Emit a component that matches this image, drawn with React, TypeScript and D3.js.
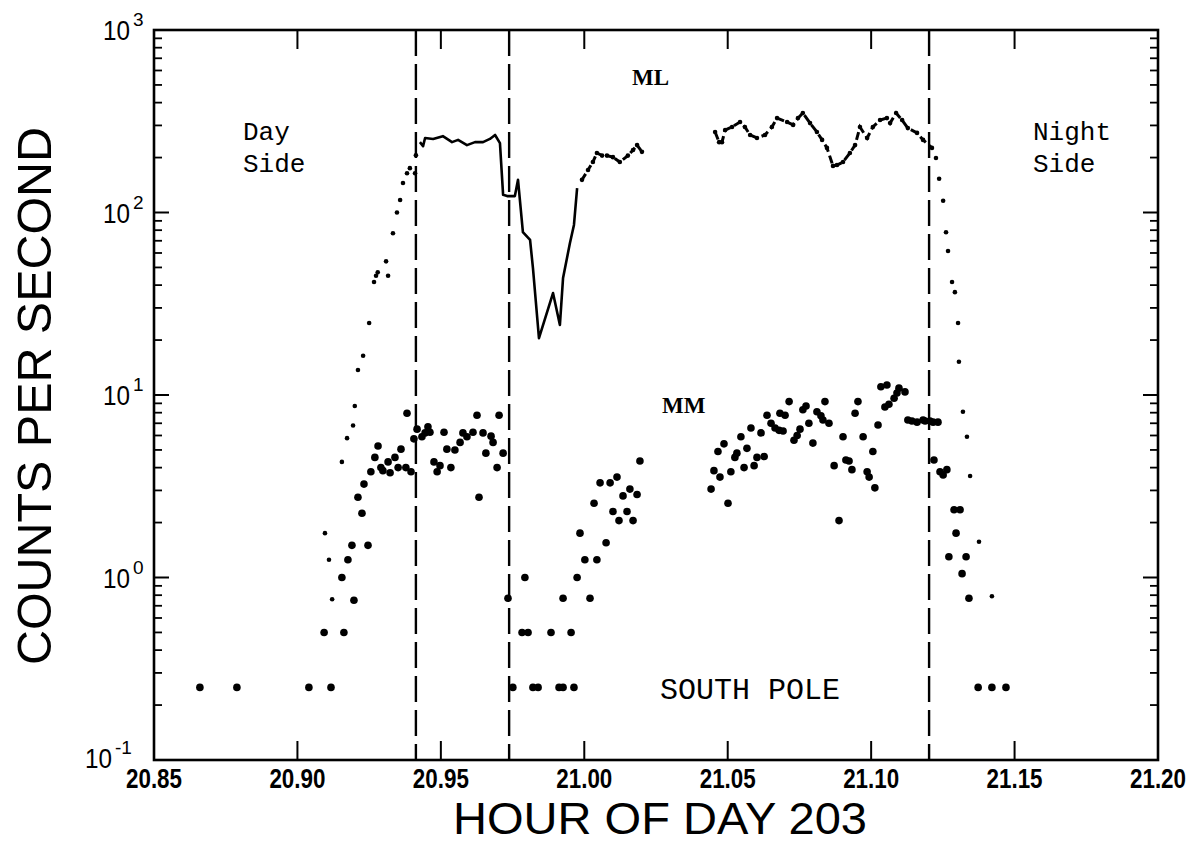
import React from 'react';
import * as d3 from 'd3';

// ---------- data ----------
const xTickValues = [20.85, 20.9, 20.95, 21.0, 21.05, 21.1, 21.15, 21.2];
const xTickLabels = ['20.85', '20.90', '20.95', '21.00', '21.05', '21.10', '21.15', '21.20'];
const yDecades = [0.1, 1, 10, 100, 1000];
const yExponents = ['-1', '0', '1', '2', '3'];
const boundaryHours = [20.9413, 20.9738, 21.1202];

// ML channel (small dots / broken line)
const mlRise: [number, number][] = [
  [20.9096, 1.75], [20.911, 1.25], [20.9121, 0.76], [20.9155, 4.3], [20.9173, 5.8], [20.9194, 6.8],
  [20.92, 8.7], [20.9211, 13.7], [20.9229, 16.4], [20.925, 24.8], [20.9267, 41.6], [20.9274, 45],
  [20.928, 47], [20.9309, 54], [20.9316, 45], [20.9333, 77], [20.9347, 100], [20.9358, 117],
  [20.9368, 145], [20.9382, 164], [20.9392, 175], [20.941, 164], [20.9413, 206],
];
const mlPlateauDip: [number, number][] = [
  [20.9427, 243], [20.9438, 231], [20.9445, 256], [20.9473, 253], [20.9507, 262], [20.9539, 243],
  [20.956, 250], [20.9591, 234], [20.9619, 243], [20.9647, 243], [20.9671, 253], [20.9689, 266],
  [20.9706, 240], [20.9717, 125], [20.9731, 123], [20.9758, 123], [20.9769, 151], [20.9786, 78],
  [20.9811, 70.7], [20.9821, 49.7], [20.9842, 20.5], [20.9891, 36.2], [20.9915, 24.2], [20.9926, 43.8],
  [20.995, 68], [20.9964, 85.5], [20.9975, 136],
];
const mlRecovery: [number, number][] = [
  [20.9992, 151], [21.0013, 171], [21.003, 189], [21.0044, 212], [21.0062, 205], [21.0079, 205],
  [21.01, 201], [21.0124, 189], [21.0152, 205], [21.017, 220], [21.0184, 234], [21.0201, 215],
];
const mlNight: [number, number][] = [
  [21.0456, 276], [21.047, 243], [21.048, 243], [21.0491, 283], [21.0515, 294], [21.0543, 313],
  [21.056, 294], [21.0578, 266], [21.0602, 256], [21.063, 266], [21.0654, 294], [21.0672, 329],
  [21.0707, 313], [21.0728, 302], [21.0745, 329], [21.0762, 351], [21.0787, 309], [21.0811, 276],
  [21.0829, 250], [21.0846, 226], [21.0867, 180], [21.0881, 182], [21.0902, 189], [21.0926, 212],
  [21.0944, 234], [21.0961, 294], [21.0986, 256], [21.1006, 294], [21.1031, 321], [21.1055, 329],
  [21.1066, 309], [21.1087, 351], [21.1108, 321], [21.1128, 290], [21.116, 273], [21.1181, 250],
  [21.1212, 226],
];
const mlFall: [number, number][] = [
  [21.1226, 199], [21.1237, 153], [21.1251, 116], [21.1261, 78], [21.1268, 61.5], [21.1282, 41.6],
  [21.1292, 36.6], [21.1303, 24.8], [21.1306, 15.2], [21.132, 8.1], [21.1334, 5.9], [21.1345, 3.6],
  [21.1376, 1.57], [21.1421, 0.79],
];

// MM channel (large dots)
const mmEarly: [number, number][] = [
  [20.866, 0.25], [20.8789, 0.25], [20.904, 0.25], [20.9117, 0.25], [20.9093, 0.5], [20.9162, 0.5],
  [20.9197, 0.75], [20.9155, 1.0], [20.9176, 1.25], [20.919, 1.5], [20.9246, 1.5], [20.9225, 2.25],
  [20.9211, 2.75], [20.9232, 3.25], [20.9256, 3.8], [20.927, 4.55], [20.9281, 5.25], [20.9291, 4.0],
  [20.9298, 3.85], [20.9316, 4.3], [20.9323, 3.75], [20.934, 4.55], [20.9351, 4.0], [20.9361, 5.05],
  [20.9378, 4.0], [20.9382, 7.95], [20.9396, 3.8], [20.9406, 5.75], [20.9417, 6.5], [20.9434, 5.9],
  [20.9445, 6.2], [20.9455, 6.7], [20.9462, 6.25], [20.9476, 4.3], [20.9487, 3.8], [20.9497, 4.1],
  [20.9511, 6.25], [20.9521, 5.05], [20.9535, 4.0], [20.9549, 5.0], [20.9567, 5.5], [20.9577, 6.2],
  [20.9591, 5.9], [20.9612, 6.25], [20.9626, 7.75], [20.9633, 2.75], [20.9647, 6.2], [20.9657, 4.8],
  [20.9675, 5.95], [20.9682, 5.5], [20.9696, 4.0], [20.9703, 7.75], [20.9717, 4.8],
];
const mmMiddle: [number, number][] = [
  [20.9734, 0.77], [20.9751, 0.25], [20.9783, 0.5], [20.9804, 0.5], [20.9793, 1.0], [20.9821, 0.25],
  [20.9839, 0.25], [20.9884, 0.5], [20.9912, 0.25], [20.9926, 0.25], [20.9926, 0.77], [20.9954, 0.5],
  [20.9964, 0.25], [20.9975, 1.0], [20.9985, 1.75], [21.0002, 1.25], [21.002, 0.77], [21.0034, 2.55],
  [21.0044, 1.25], [21.0055, 3.3], [21.009, 3.3], [21.0076, 1.55], [21.01, 2.3], [21.0114, 3.55],
  [21.0121, 2.05], [21.0135, 2.8], [21.0149, 2.3], [21.0159, 3.05], [21.017, 2.05], [21.0184, 2.85],
  [21.0194, 4.35],
];
const mmLate: [number, number][] = [
  [21.0442, 3.05], [21.0452, 3.85], [21.0466, 4.9], [21.0473, 3.55], [21.0487, 5.4], [21.0501, 2.55],
  [21.0511, 3.8], [21.0525, 4.55], [21.0532, 4.8], [21.0546, 5.9], [21.0557, 4.0], [21.0567, 5.1],
  [21.0581, 6.6], [21.0592, 4.1], [21.0602, 4.55], [21.0616, 6.2], [21.0627, 4.6], [21.0637, 7.75],
  [21.0651, 7.0], [21.0665, 6.6], [21.0679, 6.4], [21.0682, 7.95], [21.0693, 6.35], [21.07, 7.75],
  [21.0714, 9.2], [21.0731, 5.65], [21.0742, 6.0], [21.0752, 6.5], [21.0762, 8.3], [21.0773, 8.7],
  [21.0783, 7.0], [21.0797, 5.45], [21.0811, 8.1], [21.0825, 7.7], [21.0832, 7.3], [21.0839, 9.2],
  [21.0853, 7.0], [21.0871, 4.1], [21.0888, 2.05], [21.0902, 5.9], [21.0912, 4.4], [21.0923, 4.35],
  [21.0933, 3.9], [21.0944, 7.95], [21.0954, 9.2], [21.0972, 5.9], [21.0986, 3.8], [21.0993, 3.55],
  [21.1006, 4.9], [21.1013, 3.1], [21.1024, 6.85], [21.1034, 11.1], [21.1055, 11.35], [21.1048, 8.6],
  [21.1062, 8.9], [21.108, 9.6], [21.109, 10.25], [21.1097, 10.9], [21.1118, 10.4], [21.1128, 7.3],
  [21.1142, 7.2], [21.116, 7.1], [21.1181, 7.3], [21.1188, 7.2], [21.1205, 7.2], [21.1216, 7.1],
  [21.1233, 7.1], [21.1219, 4.4], [21.124, 3.8], [21.1251, 3.65], [21.1264, 3.9], [21.1289, 2.35],
  [21.131, 2.35], [21.1296, 1.75], [21.1271, 1.3], [21.1331, 1.3], [21.1317, 1.05], [21.1341, 0.77],
  [21.1373, 0.25], [21.1421, 0.25], [21.147, 0.25],
];

// ---------- layout ----------
const W = 1204;
const H = 844;
const left = 154;
const right = 1158;
const top = 30;
const bottom = 760;

const x = d3.scaleLinear().domain([20.85, 21.2]).range([left, right]);
const y = d3.scaleLog().domain([0.1, 1000]).range([bottom, top]);

const line = d3
  .line<[number, number]>()
  .x((d) => x(d[0]))
  .y((d) => y(d[1]));

const minorTicks: number[] = [];
for (const dec of [0.1, 1, 10, 100]) {
  for (let k = 2; k <= 9; k++) minorTicks.push(dec * k);
}

const INK = '#000';
const sans = "'Liberation Sans', Arial, sans-serif";
const mono = "'Liberation Mono', 'DejaVu Sans Mono', monospace";
const serif = "'Liberation Serif', 'DejaVu Serif', serif";

export default function App() {
  return (
    <svg
      width={W}
      height={H}
      viewBox={`0 0 ${W} ${H}`}
      style={{ position: 'absolute', left: 0, top: 0, background: '#fff' }}
    >
      <rect x={0} y={0} width={W} height={H} fill="#fff" />

      {/* boundary dashed lines */}
      {boundaryHours.map((h, i) => (
        <line
          key={'b' + i}
          x1={x(h)}
          x2={x(h)}
          y1={top}
          y2={bottom}
          stroke={INK}
          strokeWidth={2.4}
          strokeDasharray="26 8"
        />
      ))}

      {/* ML broken line segments */}
      <path d={line(mlPlateauDip) || ''} fill="none" stroke={INK} strokeWidth={2.6} strokeLinejoin="round" />
      <path d={line(mlRecovery) || ''} fill="none" stroke={INK} strokeWidth={3} strokeDasharray="7 3" />
      <path d={line(mlNight) || ''} fill="none" stroke={INK} strokeWidth={3} strokeDasharray="8 4" />
      {[...mlRise, ...mlRecovery, ...mlNight, ...mlFall].map((d, i) => (
        <circle key={'ml' + i} cx={x(d[0])} cy={y(d[1])} r={2.3} fill={INK} />
      ))}

      {/* MM dots */}
      {[...mmEarly, ...mmMiddle, ...mmLate].map((d, i) => (
        <circle key={'mm' + i} cx={x(d[0])} cy={y(d[1])} r={3.8} fill={INK} />
      ))}

      {/* frame */}
      <rect x={left} y={top} width={right - left} height={bottom - top} fill="none" stroke={INK} strokeWidth={2.6} />

      {/* x ticks (bottom and top, inward) */}
      {xTickValues.map((v, i) => (
        <g key={'xt' + i}>
          <line x1={x(v)} x2={x(v)} y1={bottom} y2={bottom - 19} stroke={INK} strokeWidth={2} />
          <line x1={x(v)} x2={x(v)} y1={top} y2={top + 19} stroke={INK} strokeWidth={2} />
          <text
            x={x(v)}
            y={788}
            textAnchor="middle"
            fontFamily={sans}
            fontWeight="bold"
            fontSize={27}
            textLength={56}
            lengthAdjust="spacingAndGlyphs"
            fill={INK}
          >
            {xTickLabels[i]}
          </text>
        </g>
      ))}

      {/* y ticks */}
      {yDecades.map((v, i) => {
        const neg = yExponents[i].startsWith('-');
        const baseRight = neg ? 112 : 130;
        return (
          <g key={'yt' + i}>
            <line x1={left} x2={left + 15} y1={y(v)} y2={y(v)} stroke={INK} strokeWidth={2} />
            <line x1={right} x2={right - 15} y1={y(v)} y2={y(v)} stroke={INK} strokeWidth={2} />
            <text
              x={baseRight}
              y={neg ? y(v) + 8 : y(v) + 10}
              textAnchor="end"
              fontFamily={sans}
              fontSize={28}
              textLength={27}
              lengthAdjust="spacingAndGlyphs"
              fill={INK}
            >
              10
            </text>
            <text
              x={baseRight + 3}
              y={neg ? y(v) - 6 : y(v) - 4}
              fontFamily={sans}
              fontSize={19}
              fill={INK}
            >
              {yExponents[i]}
            </text>
          </g>
        );
      })}
      {minorTicks.map((v, i) => (
        <g key={'ym' + i}>
          <line x1={left} x2={left + 8} y1={y(v)} y2={y(v)} stroke={INK} strokeWidth={1.8} />
          <line x1={right} x2={right - 8} y1={y(v)} y2={y(v)} stroke={INK} strokeWidth={1.8} />
        </g>
      ))}

      {/* annotations */}
      <text x={243} y={140} fontFamily={mono} fontSize={26} fill={INK}>Day</text>
      <text x={243} y={172} fontFamily={mono} fontSize={26} fill={INK}>Side</text>
      <text x={1033} y={140} fontFamily={mono} fontSize={26} fill={INK}>Night</text>
      <text x={1033} y={172} fontFamily={mono} fontSize={26} fill={INK}>Side</text>
      <text x={632} y={85} fontFamily={serif} fontWeight="bold" fontSize={23} fill={INK}>ML</text>
      <text x={662} y={413} fontFamily={serif} fontWeight="bold" fontSize={23} fill={INK}>MM</text>
      <text x={660} y={699} fontFamily={mono} fontSize={30} fill={INK}>SOUTH POLE</text>

      {/* axis titles */}
      <text
        x={660}
        y={834}
        textAnchor="middle"
        fontFamily={sans}
        fontSize={44}
        textLength={414}
        lengthAdjust="spacingAndGlyphs"
        fill={INK}
      >
        HOUR OF DAY 203
      </text>
      <text
        transform="translate(51,396) rotate(-90)"
        textAnchor="middle"
        fontFamily={sans}
        fontSize={48}
        textLength={538}
        lengthAdjust="spacingAndGlyphs"
        fill={INK}
      >
        COUNTS PER SECOND
      </text>
    </svg>
  );
}
